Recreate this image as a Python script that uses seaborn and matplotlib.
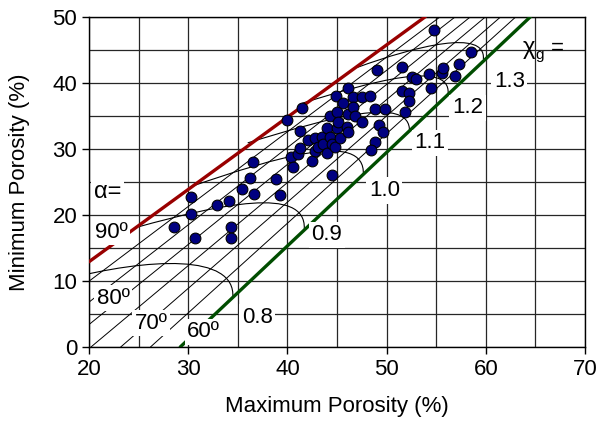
import numpy as np
import seaborn as sns
import matplotlib.pyplot as plt
from matplotlib.path import Path
from matplotlib.patches import PathPatch

# measured points (max porosity %, min porosity %)
max_por = [28.6, 30.25, 30.25, 30.7, 32.9, 34.15, 34.3, 34.3, 35.4, 36.2, 36.5, 36.6, 38.9, 39.25,
           40.0, 40.4, 40.6, 41.3, 41.44, 41.1, 41.27, 42.1, 42.45, 42.8, 42.8, 43.1, 43.46, 43.6,
           43.96, 43.96, 44.3, 44.3, 44.47, 44.47, 44.8, 44.87, 44.97, 44.96, 45.1, 45.3, 45.57,
           45.98, 46.1, 46.1, 46.1, 46.6, 46.6, 46.8, 47.5, 47.5, 48.3, 48.8, 49.84, 49.0, 49.2,
           49.67, 48.83, 48.4,
           51.6, 52.6, 52.96, 51.5, 52.3, 52.3, 51.85, 54.3, 54.45, 55.55, 55.7, 56.9, 57.3, 58.5, 54.8]
min_por = [18.2, 22.7, 20.2, 16.45, 21.5, 22.1, 18.2, 16.45, 23.9, 25.6, 28.05, 23.15, 25.4, 23.0,
           34.4, 28.8, 27.2, 32.7, 36.2, 29.2, 30.2, 31.3, 28.1, 31.6, 29.6, 30.3, 31.8, 30.8,
           29.3, 33.1, 31.8, 34.9, 30.8, 26.0, 30.3, 38.0, 33.1, 35.6, 34.1, 31.6, 37.0,
           33.3, 32.5, 35.2, 39.25, 37.9, 36.4, 34.9, 37.8, 34.1, 38.0, 36.1, 36.0, 42.0, 33.6,
           32.6, 31.1, 29.8,
           42.4, 40.9, 40.5, 38.8, 38.5, 37.3, 35.6, 41.4, 39.2, 41.5, 42.2, 41.1, 42.9, 44.7, 48.0]

# bounding lines
red_x = [20, 53.9]
red_y = [12.9, 50]
green_x = [29.2, 64.5]
green_y = [0, 50]

# thin fan lines: x at zero porosity, all meeting where red and green cross
fan_x0 = [8.2, 11.2, 14.2, 17.2, 20.2, 23.2, 26.2]
fan_apex = (101.2, 101.8)

# chi_g curves as cubic bezier (start, ctrl1, ctrl2, end)
chi_labels = ['0.8', '0.9', '1.0', '1.1', '1.2', '1.3']
chi_start = [(17.5, 10.2), (25.0, 18.2), (30.5, 24.4), (36.0, 30.9), (41.5, 36.9), (47.0, 42.3)]
chi_c1 = [(26.0, 13.5), (33.0, 21.5), (38.5, 28.5), (44.0, 34.6), (48.5, 40.2), (53.0, 45.6)]
chi_c2 = [(34.8, 14.2), (41.9, 24.5), (47.9, 33.0), (52.5, 38.3), (56.4, 43.5), (60.0, 48.2)]
chi_end = [(34.5, 7.5), (41.7, 17.9), (47.65, 26.1), (52.3, 32.6), (56.2, 38.4), (59.75, 43.6)]
chi_text_xy = [(35.4, 4.5), (42.4, 17.0), (48.2, 23.7), (52.8, 30.9), (56.6, 36.2), (60.8, 40.2)]

alpha_labels = ['α=', '90º', '80º', '70º', '60º']
alpha_text_xy = [(20.5, 23.4), (20.6, 17.4), (20.8, 7.4), (24.6, 3.6), (29.9, 2.3)]

sns.set_style('ticks')
plt.rcParams['font.family'] = ['Liberation Sans', 'DejaVu Sans']
for k in ['text.color', 'axes.labelcolor', 'xtick.color', 'ytick.color']:
    plt.rcParams[k] = 'black'

fig = plt.figure(figsize=(5.97, 4.33), dpi=100)
ax = fig.add_axes([0.149, 0.1986, 0.831, 0.7628])

for x0 in fan_x0:
    ax.plot([x0, fan_apex[0]], [0, fan_apex[1]], color='black', lw=0.7, zorder=2)

for s, c1, c2, e in zip(chi_start, chi_c1, chi_c2, chi_end):
    p = Path([s, c1, c2, e], [Path.MOVETO, Path.CURVE4, Path.CURVE4, Path.CURVE4])
    ax.add_patch(PathPatch(p, fill=False, edgecolor='black', lw=0.8, zorder=2))

ax.plot(red_x, red_y, color='#990000', lw=2.4, zorder=3)
ax.plot(green_x, green_y, color='#004d00', lw=2.4, zorder=3)

sns.scatterplot(x=max_por, y=min_por, color='#000080', edgecolor='black', s=60,
                linewidth=0.8, zorder=5, ax=ax)

box = dict(facecolor='white', edgecolor='none', pad=2)
for lab, (tx, ty) in zip(chi_labels, chi_text_xy):
    ax.text(tx, ty, lab, fontsize=16, ha='left', va='center', bbox=box, zorder=6)
for lab, (tx, ty) in zip(alpha_labels, alpha_text_xy):
    ax.text(tx, ty, lab, fontsize=17 if lab == 'α=' else 16, ha='left', va='center',
            bbox=box, zorder=6)
ax.text(63.7, 45.3, 'χ', fontsize=17, ha='left', va='center', zorder=6)
ax.text(65.0, 44.2, 'g', fontsize=11, ha='left', va='center', zorder=6)
ax.text(66.6, 45.3, '=', fontsize=16, ha='left', va='center', zorder=6)

ax.set_xlim(20, 70)
ax.set_ylim(0, 50)
ax.set_xticks(np.arange(20, 71, 10))
ax.set_yticks(np.arange(0, 51, 10))
ax.set_xticks(np.arange(20, 71, 5), minor=True)
ax.set_yticks(np.arange(0, 51, 5), minor=True)
ax.grid(which='both', color='0.15', lw=0.9, zorder=0)
ax.set_axisbelow(True)
ax.tick_params(which='major', direction='out', length=5, width=1, labelsize=16, color='black')
ax.tick_params(which='minor', length=0)
for sp in ax.spines.values():
    sp.set_color('black')
    sp.set_linewidth(1)
ax.set_xlabel('Maximum Porosity (%)', fontsize=16, labelpad=12)
ax.set_ylabel('Minimum Porosity (%)', fontsize=16, labelpad=16)

fig.savefig('out.png', dpi=100)
